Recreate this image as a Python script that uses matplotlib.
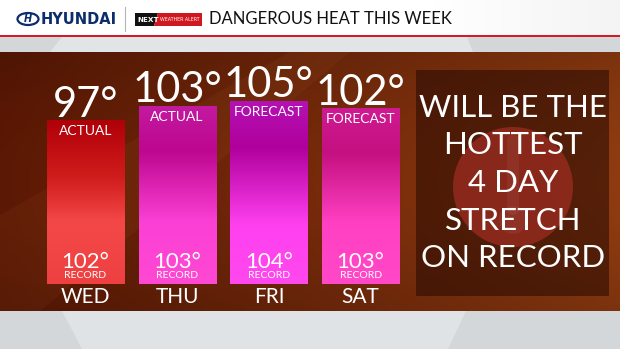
import numpy as np
import matplotlib.pyplot as plt
from matplotlib.colors import LinearSegmentedColormap, to_rgb
from matplotlib.patches import Rectangle, Circle, Ellipse, Polygon, FancyBboxPatch

# ---------------- data ----------------
days = ["WED", "THU", "FRI", "SAT"]
highs = [97, 103, 105, 102]
status = ["ACTUAL", "ACTUAL", "FORECAST", "FORECAST"]
records = [102, 103, 104, 103]
message = ["WILL BE THE", "HOTTEST", "4 DAY", "STRETCH", "ON RECORD"]
title = "DANGEROUS HEAT THIS WEEK"
sponsor = "HYUNDAI"
badge = ["NEXT", "WEATHER ALERT"]

# gradient stops (top -> bottom) per bar
bar_gradients = [
    [(0.0, "#b00008"), (0.35, "#d01c1c"), (0.62, "#f44848"), (1.0, "#ee4040")],
    [(0.0, "#c21aa0"), (0.25, "#bd078f"), (0.65, "#fb40d6"), (1.0, "#ff48d2")],
    [(0.0, "#b412b4"), (0.25, "#b0009c"), (0.68, "#ff40f0"), (1.0, "#ff48ee")],
    [(0.0, "#d01a92"), (0.25, "#c41080"), (0.65, "#ff40c2"), (1.0, "#ff48c8")],
]

FONT = ["Lato", "DejaVu Sans"]
plt.rcParams["font.family"] = FONT

W, H = 620, 349
fig = plt.figure(figsize=(6.2, 3.49), dpi=100)

# ---------------- background / frame ----------------
bg = fig.add_axes([0, 0, 1, 1])
bg.set_xlim(0, W)
bg.set_ylim(H, 0)
bg.axis("off")

# brown textured area (smooth gradient)
ny, nx = 60, 120
gx = np.linspace(0, 1, nx)[None, :]
gy = np.linspace(0, 1, ny)[:, None]
left = np.array(to_rgb("#5a1804"))
right = np.array(to_rgb("#8c3a10"))
img = left[None, None, :] * (1 - gx[..., None]) + right[None, None, :] * gx[..., None]
shade = 0.88 + 0.14 * np.sin(np.pi * gy)[..., None] * np.ones((1, nx, 1))
img = np.clip(img * shade, 0, 1)
bg.imshow(img, extent=(0, W, 311, 52), origin="upper", aspect="auto", zorder=0,
          interpolation="bicubic")
# faint diagonal thermometer body
bg.add_patch(Polygon([(0, 215), (290, 52), (350, 52), (40, 311), (0, 311)],
                     closed=True, facecolor="#ff9a50", alpha=0.05, lw=0, zorder=1))

# header
bg.add_patch(Rectangle((0, 0), W, 35, facecolor="white", lw=0, zorder=2))
hdr = np.linspace(0, 1, 100)[None, :]
hdr_img = np.ones((1, 100, 4))
hdr_img[..., :3] = 0.93
hdr_img[..., 3] = np.clip((hdr - 0.7) / 0.3, 0, 1) * 0.6
bg.imshow(hdr_img, extent=(0, W, 35, 0), origin="upper", aspect="auto", zorder=2.5)
bg.add_patch(Rectangle((0, 34.5), W, 2.6, facecolor="#d41a22", lw=0, zorder=3))
bg.add_patch(Rectangle((0, 37), W, 15, facecolor="#d3d7da", lw=0, zorder=2))
bg.add_patch(Polygon([(62, 37), (467, 37), (473, 52), (50, 52)], closed=True,
                     facecolor="#e2e5e7", lw=0, zorder=2.2))
bg.add_patch(Rectangle((0, 311), W, 38, facecolor="#d3d7da", lw=0, zorder=2))
bg.add_patch(Polygon([(62, 311), (466, 311), (448, 349), (82, 349)], closed=True,
                     facecolor="#e0e3e5", lw=0, zorder=2.2))

# sponsor logo
bg.add_patch(Ellipse((28, 19), 21, 12, angle=0, facecolor="none",
                     edgecolor="#0b2d6b", lw=1.6, zorder=4))
bg.text(28, 19.5, "H", ha="center", va="center", fontsize=7, fontweight="bold",
        fontstyle="italic", color="#0b2d6b", family="DejaVu Sans", zorder=5)
bg.text(41, 19.5, sponsor, ha="left", va="center", fontsize=10.5, fontweight="bold",
        color="#0b2d6b", family="DejaVu Sans", zorder=5)
bg.plot([125, 125], [7, 31], color="#b5b5b5", lw=0.8, zorder=4)

# badge
bg.add_patch(Polygon([(135, 13), (158, 13), (154, 26), (135, 26)], closed=True,
                     facecolor="#111111", lw=0, zorder=4))
bg.add_patch(Polygon([(158, 13), (202, 13), (202, 26), (154, 26)], closed=True,
                     facecolor="#d01820", lw=0, zorder=4))
bg.text(137, 19.8, badge[0], ha="left", va="center", fontsize=5.2, fontweight="bold",
        color="white", family="DejaVu Sans", zorder=5)
bg.text(180, 19.8, badge[1], ha="center", va="center", fontsize=3.4,
        color="white", family="DejaVu Sans", zorder=5)

bg.text(209, 19.5, title, ha="left", va="center", fontsize=12, color="#111111",
        zorder=5)

# right message box
bg.add_patch(Rectangle((416, 70), 193, 226, facecolor="#1e0602", alpha=0.5,
                       lw=0, zorder=3))
bg.add_patch(Circle((513, 187), 60, facecolor="#b8322a", alpha=0.55, lw=0, zorder=3.2))
bg.add_patch(FancyBboxPatch((507, 135), 12, 80, boxstyle="round,pad=0,rounding_size=6",
                            facecolor="white", alpha=0.05, lw=0, zorder=3.3))
bg.add_patch(Circle((513, 220), 14, facecolor="white", alpha=0.05, lw=0, zorder=3.3))
for i, line in enumerate(message):
    bg.text(513, 108 + i * 37.5, line, ha="center", va="center", fontsize=22.5,
            color="white", zorder=6)

# ---------------- bars ----------------
base = 29
px_per_deg = 2.4
ax = fig.add_axes([39.5 / W, (H - 284) / H, (406.5 - 39.5) / W, (284 - 52) / H])
ax.patch.set_alpha(0)
for s in ax.spines.values():
    s.set_visible(False)
ax.set_xticks([])
ax.set_yticks([])

x = np.arange(len(days))
bars = ax.bar(x, [h - base for h in highs], bottom=base, width=0.84,
              color="none", edgecolor="none", zorder=3)

for b, stops in zip(bars, bar_gradients):
    cmap = LinearSegmentedColormap.from_list("g", stops)
    grad = cmap(np.linspace(0, 1, 256))[:, None, :]
    x0, y0 = b.get_x(), b.get_y()
    ax.imshow(grad, extent=(x0, x0 + b.get_width(), y0, y0 + b.get_height()),
              origin="upper", aspect="auto", zorder=2, interpolation="bilinear")

ax.set_xlim(-0.5, len(days) - 0.5)
ax.set_ylim(base, base + 232 / px_per_deg)

for xi, h, st, rec, d in zip(x, highs, status, records, days):
    ax.annotate(f"{h}°", xy=(xi, h), xytext=(0, 3), textcoords="offset points",
                ha="center", va="baseline", fontsize=30, color="white", zorder=5)
    ax.annotate(st, xy=(xi, h), xytext=(0, -7.5), textcoords="offset points",
                ha="center", va="center", fontsize=10, color="white", zorder=5)
    ax.annotate(f"{rec}°", xy=(xi, base), xytext=(0, 15.5), textcoords="offset points",
                ha="center", va="center", fontsize=16, color="white", zorder=5)
    ax.annotate("RECORD", xy=(xi, base), xytext=(0, 6), textcoords="offset points",
                ha="center", va="center", fontsize=7.5, color="white", zorder=5)
    ax.annotate(d, xy=(xi, base), xytext=(0, -9.5), textcoords="offset points",
                ha="center", va="center", fontsize=15, color="white", zorder=5,
                annotation_clip=False)

fig.savefig("out.png", dpi=100)
